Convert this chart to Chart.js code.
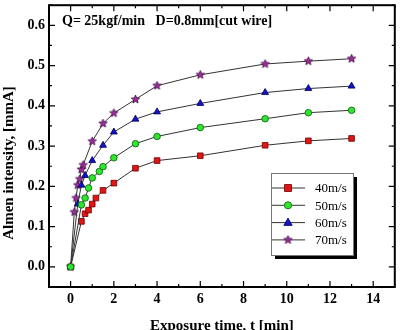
<!DOCTYPE html>
<html lang="en">
<head>
  <meta charset="UTF-8" />
  <title>Almen intensity</title>
  <script src="https://cdn.jsdelivr.net/npm/chart.js"></script>
  <style>
    body { margin: 0; background: #fff; }
  </style>
</head>
<body>
  <canvas id="almen" width="400" height="330"></canvas>

  <script>
    // exposure time [min] and almen intensity [mmA]
    const t40 = [0, 0.5, 0.67, 0.83, 1, 1.17, 1.5, 2, 3, 4, 6, 9, 11, 13];
    const v40 = [0, 0.113, 0.132, 0.141, 0.156, 0.171, 0.190, 0.208, 0.245, 0.264, 0.276, 0.302, 0.313, 0.319];
    const t50 = [0, 0.5, 0.67, 0.83, 1, 1.33, 1.5, 2, 3, 4, 6, 9, 11, 13];
    const v50 = [0, 0.154, 0.171, 0.196, 0.221, 0.237, 0.249, 0.271, 0.306, 0.324, 0.346, 0.368, 0.383, 0.389];
    const t60 = [0, 0.33, 0.5, 0.67, 1, 1.5, 2, 3, 4, 6, 9, 11, 13];
    const v60 = [0, 0.156, 0.203, 0.227, 0.264, 0.302, 0.335, 0.367, 0.385, 0.406, 0.433, 0.443, 0.449];
    const t70 = [0, 0.17, 0.25, 0.33, 0.42, 0.5, 0.58, 1, 1.5, 2, 3, 4, 6, 9, 11, 13];
    const v70 = [0, 0.136, 0.171, 0.203, 0.218, 0.242, 0.253, 0.312, 0.356, 0.382, 0.416, 0.450, 0.477, 0.504, 0.511, 0.517];

    const seriesNames = ['40m/s', '50m/s', '60m/s', '70m/s'];
    const xTicks = [0, 2, 4, 6, 8, 10, 12, 14];
    const xMinor = [-1, 1, 3, 5, 7, 9, 11, 13, 15];
    const yTicks = [0, 0.1, 0.2, 0.3, 0.4, 0.5, 0.6];
    const yMinor = [-0.05, 0.05, 0.15, 0.25, 0.35, 0.45, 0.55, 0.65];

    const pts = (ts, vs) => ts.map((t, i) => ({ x: t, y: vs[i] }));

    // filled star marker
    function makeStar(r) {
      const c = document.createElement('canvas');
      const s = Math.ceil(r * 2 + 2);
      c.width = s; c.height = s;
      const g = c.getContext('2d');
      g.beginPath();
      for (let i = 0; i < 10; i++) {
        const rr = i % 2 ? r * 0.45 : r;
        const a = -Math.PI / 2 + i * Math.PI / 5;
        g.lineTo(s / 2 + rr * Math.cos(a), s / 2 + rr * Math.sin(a));
      }
      g.closePath();
      g.fillStyle = '#a02ca0';
      g.fill();
      g.lineWidth = 0.8;
      g.strokeStyle = '#3c0a3c';
      g.stroke();
      return c;
    }
    const star = makeStar(4.4);

    const styles = [
      { pointStyle: 'rect', pointRadius: 4, pointBackgroundColor: '#e21414', pointBorderColor: '#6e0000' },
      { pointStyle: 'circle', pointRadius: 3.3, pointBackgroundColor: '#2ee62e', pointBorderColor: '#0a5a0a' },
      { pointStyle: 'triangle', pointRadius: 4, pointBackgroundColor: '#1212c8', pointBorderColor: '#000050' },
      { pointStyle: star, pointRadius: 4.4, pointBackgroundColor: '#a02ca0', pointBorderColor: '#3c0a3c' }
    ];

    const FONT = '"Liberation Serif", "DejaVu Serif", serif';

    const frame = {
      id: 'frame',
      afterDraw(chart) {
        const { ctx, chartArea: a, scales } = chart;
        const xs = scales.x, ys = scales.y;
        ctx.save();
        ctx.strokeStyle = '#000';
        ctx.lineWidth = 1.2;
        ctx.beginPath();
        xTicks.forEach(v => {
          const px = xs.getPixelForValue(v);
          ctx.moveTo(px, a.bottom); ctx.lineTo(px, a.bottom - 6);
          ctx.moveTo(px, a.top); ctx.lineTo(px, a.top + 6);
        });
        xMinor.forEach(v => {
          const px = xs.getPixelForValue(v);
          ctx.moveTo(px, a.bottom); ctx.lineTo(px, a.bottom - 3);
          ctx.moveTo(px, a.top); ctx.lineTo(px, a.top + 3);
        });
        yTicks.forEach(v => {
          const py = ys.getPixelForValue(v);
          ctx.moveTo(a.left, py); ctx.lineTo(a.left + 6, py);
          ctx.moveTo(a.right, py); ctx.lineTo(a.right - 6, py);
        });
        yMinor.forEach(v => {
          const py = ys.getPixelForValue(v);
          ctx.moveTo(a.left, py); ctx.lineTo(a.left + 3, py);
          ctx.moveTo(a.right, py); ctx.lineTo(a.right - 3, py);
        });
        ctx.stroke();

        ctx.lineWidth = 2;
        ctx.strokeRect(a.left, a.top, a.right - a.left, a.bottom - a.top);

        // texts
        ctx.fillStyle = '#000';
        ctx.font = 'bold 14px ' + FONT;
        ctx.textAlign = 'left';
        ctx.textBaseline = 'middle';
        ctx.fillText('Q= 25kgf/min   D=0.8mm[cut wire]', 62, 21);

        ctx.font = 'bold 15px ' + FONT;
        ctx.textAlign = 'center';
        ctx.fillText('Exposure time, t [min]', (a.left + a.right) / 2, 326);
        ctx.save();
        ctx.translate(9, 163);
        ctx.rotate(-Math.PI / 2);
        ctx.fillText('Almen intensity, [mmA]', 0, 0);
        ctx.restore();

        // legend box
        const bx = 271, by = 173, bw = 82, bh = 82;
        ctx.fillStyle = '#000';
        ctx.fillRect(bx + 4, by + 4, bw, bh);
        ctx.fillStyle = '#fff';
        ctx.fillRect(bx, by, bw, bh);
        ctx.lineWidth = 1;
        ctx.strokeStyle = '#777';
        ctx.strokeRect(bx + 0.5, by + 0.5, bw, bh);

        ctx.font = '13px ' + FONT;
        ctx.textAlign = 'left';
        seriesNames.forEach((name, i) => {
          const ly = 188 + i * 17.3;
          ctx.strokeStyle = '#333';
          ctx.lineWidth = 1;
          ctx.beginPath();
          ctx.moveTo(272, ly); ctx.lineTo(305, ly);
          ctx.stroke();
          const st = styles[i];
          const mx = 288;
          ctx.fillStyle = st.pointBackgroundColor;
          ctx.strokeStyle = st.pointBorderColor;
          ctx.lineWidth = 0.8;
          ctx.beginPath();
          if (i === 0) {
            ctx.rect(mx - 3.5, ly - 3.5, 7, 7);
          } else if (i === 1) {
            ctx.arc(mx, ly, 3.6, 0, Math.PI * 2);
          } else if (i === 2) {
            ctx.moveTo(mx, ly - 4.5); ctx.lineTo(mx + 4.2, ly + 2.8); ctx.lineTo(mx - 4.2, ly + 2.8); ctx.closePath();
          }
          if (i < 3) { ctx.fill(); ctx.stroke(); }
          else ctx.drawImage(star, mx - star.width / 2, ly - star.height / 2);
          ctx.fillStyle = '#000';
          ctx.fillText(name, 315, ly + 1);
        });
        ctx.restore();
      }
    };

    const allT = [t40, t50, t60, t70];
    const allV = [v40, v50, v60, v70];
    const drawOrder = [1, 0, 2, 3];

    new Chart(document.getElementById('almen'), {
      type: 'scatter',
      data: {
        datasets: seriesNames.map((name, i) => Object.assign({
          label: name,
          data: pts(allT[i], allV[i]),
          showLine: true,
          borderColor: '#333',
          borderWidth: 1,
          pointBorderWidth: 0.8,
          order: drawOrder[i]
        }, styles[i]))
      },
      options: {
        responsive: false,
        animation: false,
        devicePixelRatio: 1,
        layout: { padding: { left: 0, right: 5, top: 1, bottom: 0 } },
        plugins: { legend: { display: false }, tooltip: { enabled: false } },
        scales: {
          x: {
            type: 'linear',
            min: -1, max: 15,
            afterBuildTicks: s => { s.ticks = xTicks.map(v => ({ value: v })); },
            afterFit: s => { s.height = 43; s.paddingLeft = 0; s.paddingRight = 0; },
            grid: { display: false, drawTicks: false },
            border: { display: false },
            ticks: { padding: 4, color: '#000', font: { family: FONT, size: 14, weight: 'bold' } }
          },
          y: {
            type: 'linear',
            min: -0.05, max: 0.65,
            afterBuildTicks: s => { s.ticks = yTicks.map(v => ({ value: v })); },
            afterFit: s => { s.width = 49; s.paddingTop = 0; s.paddingBottom = 0; },
            grid: { display: false, drawTicks: false },
            border: { display: false },
            ticks: {
              padding: 4, color: '#000',
              font: { family: FONT, size: 14, weight: 'bold' },
              callback: v => v.toFixed(1)
            }
          }
        }
      },
      plugins: [frame]
    });
  </script>
</body>
</html>
